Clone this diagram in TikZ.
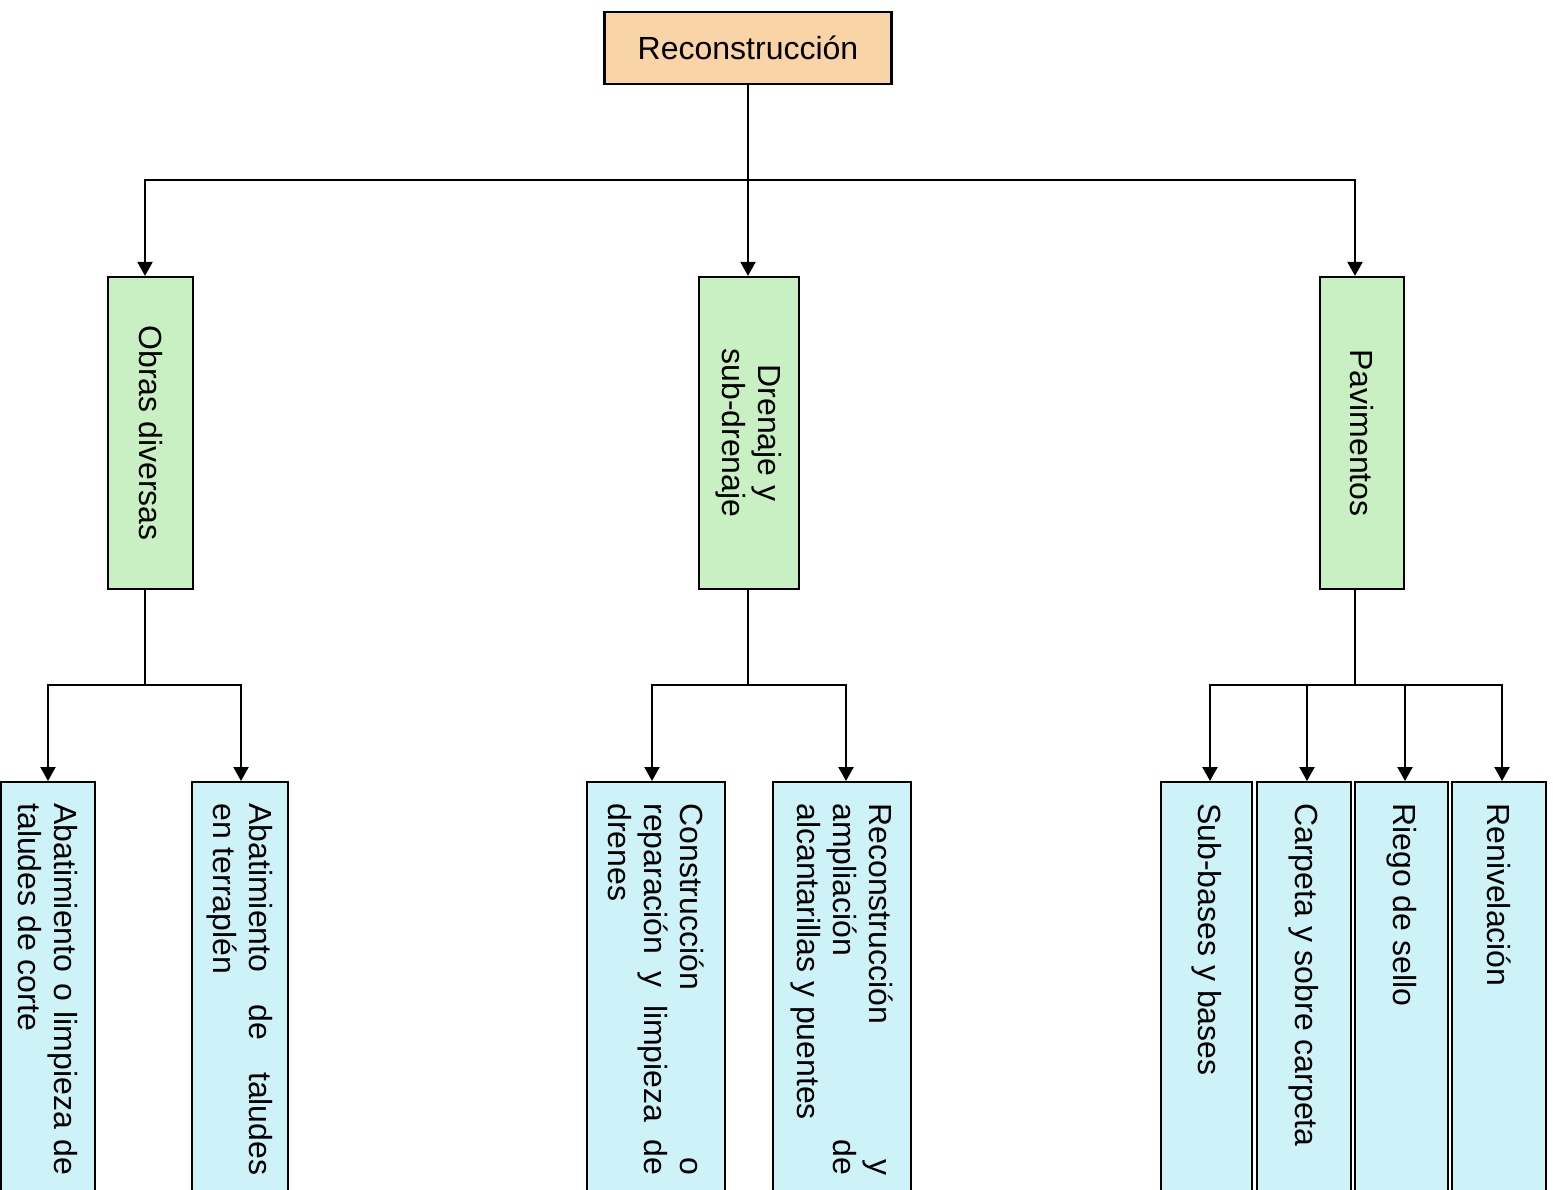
\documentclass[tikz,border=0pt]{standalone}
\usepackage{fontspec}
\setmainfont{Liberation Sans}
\usetikzlibrary{arrows.meta}
\definecolor{peach}{HTML}{F9D4A6}
\definecolor{mint}{HTML}{C9F0C2}
\definecolor{ice}{HTML}{CDF3F8}
\hyphenpenalty=10000
\exhyphenpenalty=10000

\begin{document}
\begin{tikzpicture}[x=0.5pt,y=-0.5pt,
  txt/.style={font=\fontsize{16}{18}\selectfont},
  box/.style={draw=black,line width=1.1pt,inner sep=0pt},
  topbox/.style={box,txt,fill=peach,minimum width=143.5pt,minimum height=36pt},
  midbox/.style={box,fill=mint,minimum width=#1,minimum height=156pt},
  leafbox/.style={box,fill=ice,anchor=north,minimum width=#1,minimum height=250pt},
  vlabel/.style={txt,rotate=-90,inner sep=0pt,align=center},
  leaftext/.style={txt,rotate=-90,anchor=west,inner sep=0pt,text width=186pt,align=justify},
  link/.style={line width=1.1pt},
  arr/.style={link,-{Triangle[width=7.5pt,length=7pt]}}]

\useasboundingbox (0,0) rectangle (1553,1189);
\clip (0,0) rectangle (1553,1189);

% root
\node[topbox] (root) at (748,48) {Reconstrucción};

% second level
\node[midbox=42.5pt] (obras) at (150.5,433) {};
\node[vlabel] (obrasT) at (obras) {Obras diversas};
\node[midbox=50pt] (drenaje) at (749,433) {};
\node[vlabel] (drenajeT) at (drenaje) {Drenaje y\\sub-drenaje};
\node[midbox=42pt] (pav) at (1362,433) {};
\node[vlabel] (pavT) at (pav) {Pavimentos};

% third level
\node[leafbox=47pt] (b1) at (48,781) {};
\node[leafbox=48pt] (b2) at (240,781) {};
\node[leafbox=69pt] (b3) at (656,781) {};
\node[leafbox=69pt] (b4) at (842,781) {};
\node[leafbox=45.5pt] (b5) at (1206.5,781) {};
\node[leafbox=47pt] (b6) at (1304,781) {};
\node[leafbox=46.5pt] (b7) at (1401.5,781) {};
\node[leafbox=47pt] (b8) at (1499,781) {};

\node[leaftext] (t1) at ([yshift=-11pt]b1.north) {Abatimiento o limpieza de\linebreak taludes de corte};
\node[leaftext] (t2) at ([yshift=-11pt]b2.north) {Abatimiento de taludes\linebreak en terraplén};
\node[leaftext] (t3) at ([yshift=-11pt]b3.north) {Construcción o\linebreak reparación y limpieza de\linebreak drenes};
\node[leaftext] (t4) at ([yshift=-11pt]b4.north) {Reconstrucción y\linebreak ampliación de\linebreak alcantarillas y puentes};
\node[leaftext] (t5) at ([yshift=-11pt]b5.north) {Sub-bases y bases};
\node[leaftext] (t6) at ([yshift=-11pt]b6.north) {Carpeta y sobre carpeta};
\node[leaftext] (t7) at ([yshift=-11pt]b7.north) {Riego de sello};
\node[leaftext] (t8) at ([yshift=-11pt]b8.north) {Renivelación};

% connectors: root to second level
\coordinate (hub) at (748,180);
\draw[link] (root.south) -- (hub);
\draw[arr] (hub) -| ([xshift=-2.75pt]obras.north);
\draw[arr] (hub) -- (drenaje.north -| hub);
\draw[arr] (hub) -| ([xshift=-3.5pt]pav.north);

% connectors: second to third level
\coordinate (hubL) at (145,685);
\draw[link] (obras.south -| hubL) -- (hubL);
\draw[arr] (hubL) -| (b1.north);
\draw[arr] (hubL) -| ([xshift=0.5pt]b2.north);

\coordinate (hubM) at (748,685);
\draw[link] (drenaje.south -| hubM) -- (hubM);
\draw[arr] (hubM) -| ([xshift=-2pt]b3.north);
\draw[arr] (hubM) -| ([xshift=2pt]b4.north);

\coordinate (hubR) at (1355,685);
\draw[link] (pav.south -| hubR) -- (hubR);
\draw[arr] (hubR) -| ([xshift=1.75pt]b5.north);
\draw[arr] (hubR) -| ([xshift=1.5pt]b6.north);
\draw[arr] (hubR) -| ([xshift=1.75pt]b7.north);
\draw[arr] (hubR) -| ([xshift=1.5pt]b8.north);
\end{tikzpicture}
\end{document}
